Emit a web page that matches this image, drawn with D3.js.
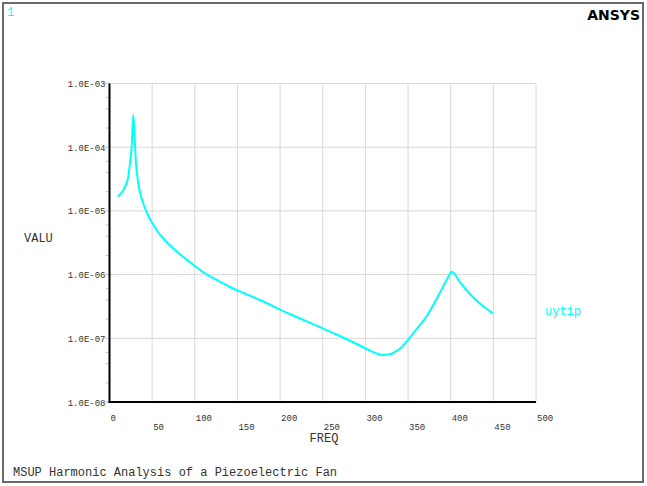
<!DOCTYPE html>
<html><head><meta charset="utf-8">
<script src="https://cdn.jsdelivr.net/npm/d3@7"></script>
<style>body{margin:0;background:#fff;}svg{display:block;}</style>
</head><body>
<script>
const freq = [9.95, 14.6, 18.1, 22.0, 24.0, 26.0, 27.9, 29.3, 31.03, 33.72, 35.71, 39.58, 43.91, 49.41, 56.79, 66.98, 76.7, 86.42, 97.78, 109.48, 123.54, 141.1, 158.67, 176.23, 211.36, 246.49, 269.91, 293.33, 305.04, 313.23, 320.61, 328.45, 335.48, 342.15, 349.88, 360.07, 371.43, 387.0, 395.2, 401.4, 410.4, 418.3, 433.8, 449.4];
const logVal = [-4.774, -4.703, -4.625, -4.463, -4.253, -3.992, -3.495, -3.808, -4.248, -4.562, -4.703, -4.884, -5.033, -5.174, -5.331, -5.488, -5.614, -5.724, -5.841, -5.959, -6.069, -6.195, -6.297, -6.399, -6.619, -6.823, -6.964, -7.113, -7.192, -7.239, -7.262, -7.251, -7.207, -7.144, -7.027, -6.854, -6.661, -6.294, -6.085, -5.954, -6.111, -6.242, -6.451, -6.608];
const uytip = logVal.map(v => Math.pow(10, v));
const xTicks = [0, 50, 100, 150, 200, 250, 300, 350, 400, 450, 500];
const yTicks = [1e-8, 1e-7, 1e-6, 1e-5, 1e-4, 1e-3];
const yTickLabels = ["1.0E-08", "1.0E-07", "1.0E-06", "1.0E-05", "1.0E-04", "1.0E-03"];
const minorMult = [2, 4, 6];

const W = 647, H = 486;
const svg = d3.select("body").append("svg").attr("width", W).attr("height", H);
svg.append("rect").attr("x", 0).attr("y", 0).attr("width", W).attr("height", H).attr("fill", "#fff");
svg.append("rect").attr("x", 3).attr("y", 3).attr("width", 640).attr("height", 479)
  .attr("fill", "none").attr("stroke", "#6a6a6a").attr("stroke-width", 2);

const x = d3.scaleLinear().domain([0, 500]).range([109.5, 536]);
const y = d3.scaleLog().domain([1e-8, 1e-3]).range([402, 83.5]);

const mono = "'Liberation Mono', 'DejaVu Sans Mono', monospace";

// grid
svg.append("g").selectAll("line").data(xTicks.slice(1)).join("line")
  .attr("x1", d => x(d)).attr("x2", d => x(d)).attr("y1", y(1e-3)).attr("y2", y(1e-8))
  .attr("stroke", "#d8d8d8").attr("stroke-width", 1);
svg.append("g").selectAll("line").data(yTicks.slice(1)).join("line")
  .attr("x1", x(0)).attr("x2", x(500)).attr("y1", d => y(d)).attr("y2", d => y(d))
  .attr("stroke", "#d8d8d8").attr("stroke-width", 1);

// minor ticks on y axis
const minors = [];
yTicks.slice(0, -1).forEach(t => minorMult.forEach(m => minors.push(t * m)));
svg.append("g").selectAll("line").data(minors).join("line")
  .attr("x1", x(0) - 4).attr("x2", x(0)).attr("y1", d => y(d)).attr("y2", d => y(d))
  .attr("stroke", "#c8c8c8").attr("stroke-width", 1);
svg.append("g").selectAll("line").data(yTicks).join("line")
  .attr("x1", x(0) - 5).attr("x2", x(0)).attr("y1", d => y(d)).attr("y2", d => y(d))
  .attr("stroke", "#c8c8c8").attr("stroke-width", 1);

// axes lines
svg.append("line").attr("x1", x(0)).attr("x2", x(0)).attr("y1", y(1e-3)).attr("y2", y(1e-8) + 1)
  .attr("stroke", "#000").attr("stroke-width", 2);
svg.append("line").attr("x1", x(0) - 1).attr("x2", x(500)).attr("y1", y(1e-8)).attr("y2", y(1e-8))
  .attr("stroke", "#000").attr("stroke-width", 2);

// y labels
svg.append("g").selectAll("text").data(yTicks).join("text")
  .attr("x", x(0) - 4).attr("y", d => y(d) + 3.5).attr("text-anchor", "end")
  .attr("font-family", mono).attr("font-size", 9).attr("fill", "#333")
  .text((d, i) => yTickLabels[i]);

// x labels
svg.append("g").selectAll("text").data(xTicks).join("text")
  .attr("x", d => x(d) + 1).attr("y", (d, i) => i % 2 === 0 ? 421 : 430)
  .attr("font-family", mono).attr("font-size", 9).attr("fill", "#333")
  .text(d => d);

// axis titles
svg.append("text").attr("x", 324).attr("y", 442).attr("text-anchor", "middle")
  .attr("font-family", mono).attr("font-size", 12).attr("fill", "#333").text("FREQ");
svg.append("text").attr("x", 24).attr("y", 242)
  .attr("font-family", mono).attr("font-size", 12).attr("fill", "#333").text("VALU");

// curve
const line = d3.line().x((d, i) => x(freq[i])).y(d => y(d)).curve(d3.curveMonotoneX);
svg.append("path").datum(uytip).attr("d", line)
  .attr("fill", "none").attr("stroke", "#00ffff").attr("stroke-width", 2);

// legend
svg.append("text").attr("x", 545).attr("y", 315)
  .attr("font-family", mono).attr("font-size", 12).attr("fill", "#00ffff").text("uytip");

// corner texts
svg.append("text").attr("x", 7).attr("y", 16)
  .attr("font-family", mono).attr("font-size", 12).attr("fill", "#00ffff").text("1");
svg.append("text").attr("x", 640).attr("y", 20).attr("text-anchor", "end")
  .attr("font-family", "'DejaVu Sans', sans-serif").attr("font-weight", "bold").attr("font-size", 14).attr("fill", "#000").text("ANSYS");
svg.append("text").attr("x", 13).attr("y", 476)
  .attr("font-family", mono).attr("font-size", 12).attr("fill", "#333").text("MSUP Harmonic Analysis of a Piezoelectric Fan");
</script>
</body></html>
